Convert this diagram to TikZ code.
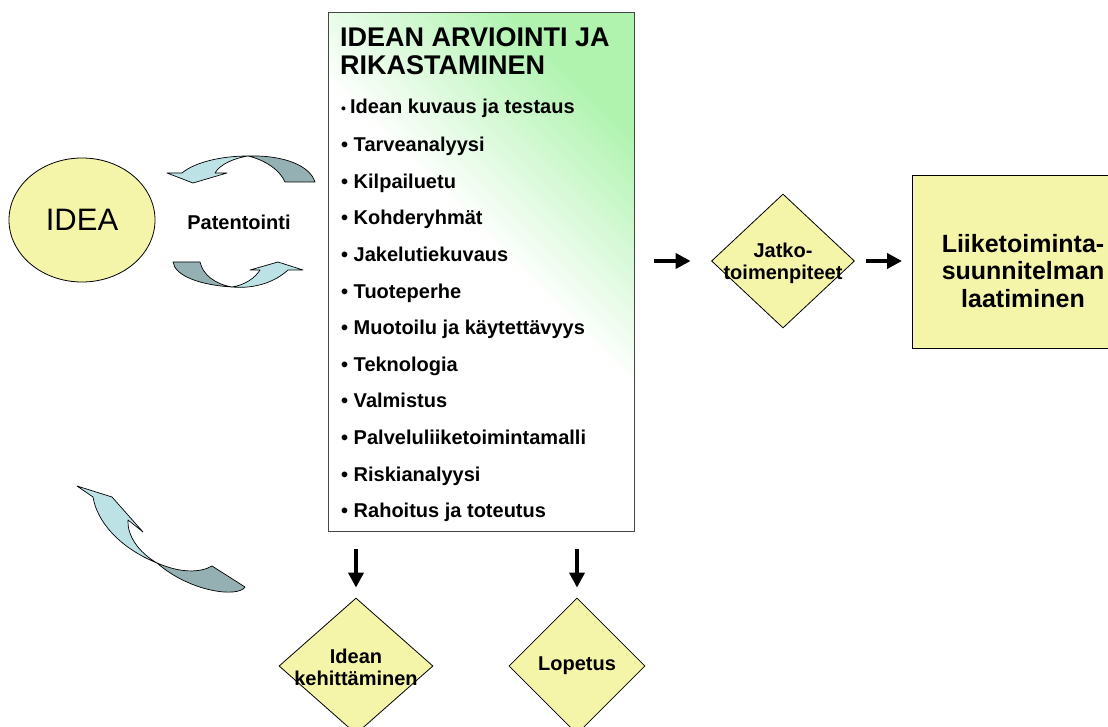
\documentclass[tikz,border=0pt]{standalone}
\usepackage{fontspec}
\setmainfont{Liberation Sans}
\usetikzlibrary{shapes.geometric,arrows.meta}
\definecolor{fillyellow}{RGB}{245,245,170}
\definecolor{boxgreen}{RGB}{175,243,175}
\definecolor{ribbonlightc}{RGB}{188,226,230}
\definecolor{ribbondarkc}{RGB}{148,176,178}
\definecolor{boxborder}{RGB}{70,70,70}
\pgfdeclareverticalshading{boxshade}{100bp}{color(0bp)=(white); color(25bp)=(white); color(53bp)=(white); color(75bp)=(boxgreen); color(100bp)=(boxgreen)}
\tikzset{
  txt/.style={inner sep=0pt, font=\bfseries\fontsize{20}{22}\selectfont},
  titletxt/.style={inner sep=0pt, anchor=base west, font=\bfseries\fontsize{27}{28}\selectfont},
  itemtxt/.style={inner sep=0pt, anchor=base west, font=\bfseries\fontsize{20}{22}\selectfont},
  dia/.style={diamond, draw=black, line width=0.8pt, fill=fillyellow, inner sep=0pt},
  diatext/.style={inner sep=0pt, align=center, font=\bfseries\fontsize{20}{22}\selectfont},
  bigarrow/.style={line width=4pt, -{Triangle[length=15pt,width=15pt]}},
  ribbonlight/.style={fill=ribbonlightc, draw=black, line width=0.7pt, line join=round},
  ribbondark/.style={fill=ribbondarkc, draw=black, line width=0.7pt, line join=round},
}
\begin{document}
\begin{tikzpicture}[x=1pt,y=-1pt]
\fill[white] (0,0) rectangle (1108,727);
\useasboundingbox (0,0) rectangle (1108,727);

% IDEA ellipse
\node[ellipse, draw=black, line width=0.8pt, fill=fillyellow, minimum width=146pt, minimum height=124pt, inner sep=0pt,
      font=\fontsize{31}{31}\selectfont] (idea) at (82,220) {IDEA};

% Patentointi
\node[txt] (pat) at (239,222) {Patentointi};

% top curved arrow
\draw[ribbondark] (248,156) .. controls (285,155) and (310,166) .. (315,182)
   -- (285,182) .. controls (280,170) and (265,160) .. (248,156) -- cycle;
\draw[ribbonlight] (248,156) .. controls (222,156) and (195,162) .. (182,173)
   -- (167,173) -- (193,183) -- (227,173) -- (215,173)
   .. controls (220,164) and (235,158) .. (248,156) -- cycle;

% bottom curved arrow
\draw[ribbondark] (173,262) -- (200,262) .. controls (203,275) and (215,284) .. (232,287)
   .. controls (200,285) and (175,276) .. (173,262) -- cycle;
\draw[ribbonlight] (232,287) .. controls (245,285) and (255,278) .. (260,270)
   -- (250,270) -- (278,262) -- (303,270) -- (288,270)
   .. controls (275,282) and (255,289) .. (232,287) -- cycle;

% bottom-left curved arrow
\draw[ribbondark] (157,563) .. controls (180,573) and (200,573) .. (212,566)
   -- (245,587) .. controls (238,598) and (190,592) .. (157,563) -- cycle;
\draw[ribbonlight] (77,486) -- (112,497) -- (143,532) -- (128,520)
   .. controls (127,535) and (138,552) .. (157,563)
   .. controls (120,548) and (97,522) .. (93,497) -- cycle;

% big box
\node[rectangle, draw=boxborder, line width=1.3pt, anchor=north west, minimum width=306pt, minimum height=519pt,
      shading=boxshade, shading angle=-45] (box) at (328,12) {};
\node[titletxt] (t1) at (340,47) {IDEAN ARVIOINTI JA};
\node[titletxt] (t2) at (340,75) {RIKASTAMINEN};
\node[itemtxt] (it0) at (341,113.5) {{\fontsize{14}{14}\selectfont\textbullet}\hspace{4pt}Idean kuvaus ja testaus};
\foreach \t [count=\i] in {Tarveanalyysi,Kilpailuetu,Kohderyhmät,Jakelutiekuvaus,Tuoteperhe,Muotoilu ja käytettävyys,Teknologia,Valmistus,Palveluliiketoimintamalli,Riskianalyysi,Rahoitus ja toteutus}
  \node[itemtxt] (it\i) at (341,{151.7+36.6*(\i-1)}) {\textbullet\ \t};

% Jatkotoimenpiteet diamond
\node[dia, minimum width=143pt, minimum height=134pt] (jatko) at (783,261) {};
\node[diatext] (jatkot) at (783,263) {Jatko-\\toimenpiteet};

% Plan box (extends beyond right edge)
\node[rectangle, draw=black, line width=0.8pt, fill=fillyellow, anchor=north west, minimum width=222pt, minimum height=173pt] (plan) at (912,175) {};
\node[inner sep=0pt, align=center, font=\bfseries\fontsize{25}{27.5}\selectfont] (plant) at (1023,271) {Liiketoiminta-\\suunnitelman\\laatiminen};

% bottom diamonds
\node[dia, minimum width=154pt, minimum height=136pt] (kehit) at (356,666) {};
\node[diatext] (kehitt) at (356,667) {Idean\\kehittäminen};
\node[dia, minimum width=136pt, minimum height=136pt] (lop) at (577,666) {};
\node[diatext] (lopt) at (577,666) {Lopetus};

% arrows
\draw[bigarrow, shorten <=19pt, shorten >=20.5pt] (box.east |- jatko) -- (jatko.west);
\draw[bigarrow, shorten <=11.5pt, shorten >=10pt] (jatko.east) -- (plan.west |- jatko);
\draw[bigarrow, shorten <=17pt, shorten >=10pt] (box.south -| kehit) -- (kehit.north);
\draw[bigarrow, shorten <=17pt, shorten >=10pt] (box.south -| lop) -- (lop.north);
\end{tikzpicture}
\end{document}
